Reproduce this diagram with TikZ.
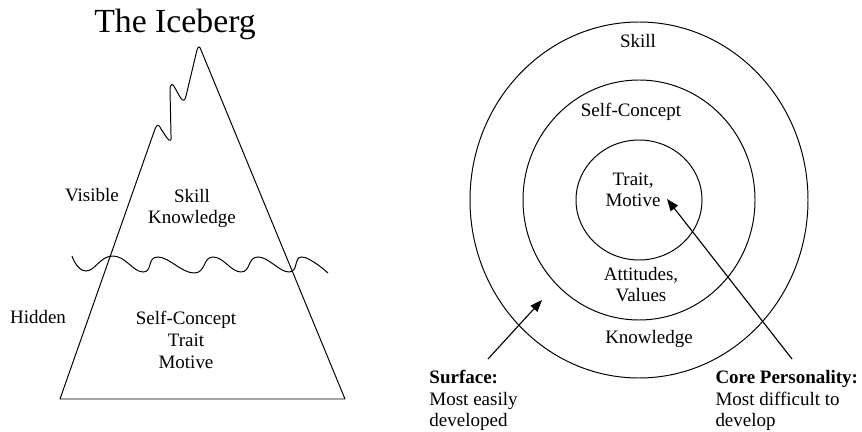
\documentclass[tikz,border=0pt]{standalone}
\usepackage{fontspec}
\setmainfont{Liberation Serif}
\usetikzlibrary{arrows.meta,positioning}

\begin{document}
\begin{tikzpicture}[
    x=0.025cm, y=-0.025cm, line width=0.7pt,
    lbl/.style={inner sep=0pt, align=center, anchor=base, font=\fontsize{13.5}{15.6}\selectfont},
    note/.style={inner sep=0pt, align=left, anchor=base west, font=\fontsize{13.5}{15.6}\selectfont},
    pointer/.style={-{Triangle[length=8.5pt, width=6.5pt]}, line width=0.8pt}
]
\useasboundingbox (0,0) rectangle (862,432);

% iceberg
\draw[line join=round] (60,399) -- (155,129) .. controls (157,124) and (159,124) .. (161,129)
    -- (167,138) .. controls (170,142) and (172,141) .. (171,135) -- (170,90)
    .. controls (170,83) and (173,83) .. (175,88) -- (180,97)
    .. controls (183,102) and (185,101) .. (186,96) -- (197,50)
    .. controls (198,46) and (200,46) .. (201,50) -- (345,399) -- cycle;
\draw plot[smooth, tension=0.8] coordinates {(72,256) (86,271) (113,256) (143,272) (158,257)
    (194,273) (213,257) (241,272) (258,257) (289,272) (302,257) (328,273)};

% multi-line labels sit on the baseline of their last line
\node[inner sep=0pt, anchor=base, font=\fontsize{24}{28}\selectfont] (title) at (175,33) {The Iceberg};
\node[lbl] (visible) at (92,202) {Visible};
\node[lbl] (above) at (192,224) {Skill\\Knowledge};
\node[lbl] (hidden) at (38,324) {Hidden};
\node[lbl] (below) at (186,368) {Self-Concept\\Trait\\Motive};

% rings
\draw (639,200) ellipse [x radius=169, y radius=178];
\draw (639,200) ellipse [x radius=116, y radius=120];
\draw (639,200) ellipse [x radius=63, y radius=60];

\node[lbl] (skill) at (638,48) {Skill};
\node[lbl] (concept) at (631,117) {Self-Concept};
\node[lbl] (core) at (633,207) {Trait,\\Motive};
\node[lbl] (values) at (641,302) {Attitudes,\\Values};
\node[lbl] (knowledge) at (649,344) {Knowledge};

\node[note] (surface) at (429,427) {\textbf{Surface:}\\Most easily\\developed};
\node[note] (personality) at (715,427) {\textbf{Core Personality:}\\Most difficult to\\develop};

\coordinate (surfacetail) at (488,359);
\coordinate (surfacetip) at (542,300);
\coordinate (coretail) at (792,359);
\coordinate (coretip) at (667,199);
\draw[pointer] (surfacetail) -- (surfacetip);
\draw[pointer] (coretail) -- (coretip);

\end{tikzpicture}
\end{document}
